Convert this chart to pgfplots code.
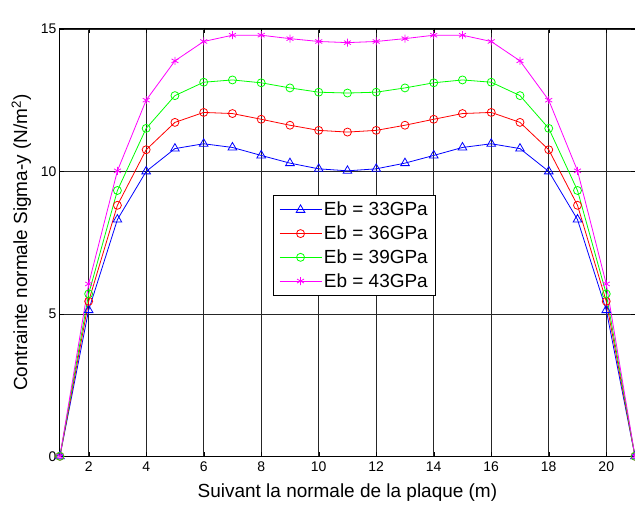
\documentclass[border=0pt]{standalone}
\usepackage{pgfplots}
\pgfplotsset{compat=1.18}
\usepackage{pgfplotstable}
\usepackage{fontspec}
\setmainfont{Liberation Sans}

\definecolor{mblue}{RGB}{0,0,255}
\definecolor{mred}{RGB}{255,0,0}
\definecolor{mgreen}{RGB}{0,255,0}
\definecolor{mmagenta}{RGB}{255,0,255}

% contrainte sigma-y le long de la normale, 4 modules Eb
\pgfplotstableread{
x  e33     e36     e39     e43
1  0       0       0       0
2  5.13e6  5.44e6  5.70e6  6.05e6
3  8.31e6  8.81e6  9.33e6  10.02e6
4  10.00e6 10.76e6 11.51e6 12.50e6
5  10.80e6 11.72e6 12.66e6 13.88e6
6  10.97e6 12.07e6 13.13e6 14.56e6
7  10.84e6 12.03e6 13.21e6 14.78e6
8  10.56e6 11.83e6 13.11e6 14.78e6
9  10.29e6 11.62e6 12.93e6 14.66e6
10 10.09e6 11.44e6 12.78e6 14.56e6
11 10.02e6 11.38e6 12.75e6 14.52e6
12 10.09e6 11.44e6 12.78e6 14.56e6
13 10.29e6 11.62e6 12.93e6 14.66e6
14 10.56e6 11.83e6 13.11e6 14.78e6
15 10.84e6 12.03e6 13.21e6 14.78e6
16 10.97e6 12.07e6 13.13e6 14.56e6
17 10.80e6 11.72e6 12.66e6 13.88e6
18 10.00e6 10.76e6 11.51e6 12.50e6
19 8.31e6  8.81e6  9.33e6  10.02e6
20 5.13e6  5.44e6  5.70e6  6.05e6
21 0       0       0       0
}\sigmay

\begin{document}
\begin{tikzpicture}
\begin{axis}[
  scale only axis,
  width=576pt, height=428pt,
  xmin=1, xmax=21, ymin=0, ymax=15e6,
  xtick={2,4,...,20},
  ytick={0,5e6,10e6,15e6},
  yticklabels={0,5,10,15},
  scaled y ticks=false,
  /pgf/number format/assume math mode=true,
  ticklabel style={font=\fontsize{14}{16}\selectfont},
  xticklabel style={yshift=-2pt},
  label style={font=\fontsize{19}{22}\selectfont},
  xlabel={Suivant la normale de la plaque (m)},
  ylabel={Contrainte normale Sigma-y (N/m\textsuperscript{2})},
  xlabel style={yshift=-5pt},
  ylabel style={yshift=3pt},
  grid=major,
  major grid style={black!85, line width=0.6pt},
  axis line style={line width=1pt},
  tick align=inside,
  major tick length=4pt,
  tick style={black},
  legend style={at={(rel axis cs:0.37,0.612)}, anchor=north west,
    font=\fontsize{19}{22}\selectfont, draw=black, line width=1pt,
    row sep=4.5pt, inner xsep=6pt, inner ysep=5pt},
  legend cell align=left,
  legend image code/.code={
    \draw[mark repeat=2, mark phase=2] plot coordinates {(0pt,0pt) (21pt,0pt) (42pt,0pt)};},
  every axis plot/.append style={line width=0.8pt},
]
\addplot[mblue, mark=triangle, mark size=5pt, mark options={solid, line width=0.8pt}] table[x=x, y=e33] {\sigmay};
\addlegendentry{Eb = 33GPa}
\addplot[mred, mark=o, mark size=4pt, mark options={solid, line width=0.8pt}] table[x=x, y=e36] {\sigmay};
\addlegendentry{Eb = 36GPa}
\addplot[mgreen, mark=o, mark size=4pt, mark options={solid, line width=0.8pt}] table[x=x, y=e39] {\sigmay};
\addlegendentry{Eb = 39GPa}
\addplot[mmagenta, mark=asterisk, mark size=4pt, mark options={solid, line width=0.8pt}] table[x=x, y=e43] {\sigmay};
\addlegendentry{Eb = 43GPa}
\node[anchor=south west, inner sep=1pt, font=\fontsize{14}{16}\selectfont]
  at (rel axis cs:0,1) {x 10\raisebox{0.7ex}{\fontsize{9}{9}\selectfont 6}};
\end{axis}
\pgfresetboundingbox
\useasboundingbox (-60pt,-48pt) rectangle (576pt,457pt);
\end{tikzpicture}
\end{document}
